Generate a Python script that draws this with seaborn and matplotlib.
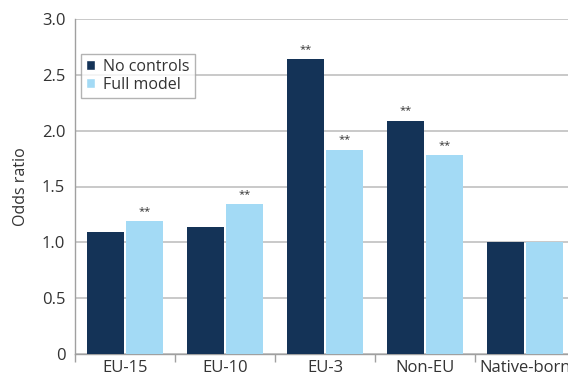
import matplotlib
matplotlib.use("Agg")
import matplotlib.pyplot as plt
import seaborn as sns
import pandas as pd
import numpy as np
from matplotlib.patches import Patch

categories = ["EU-15", "EU-10", "EU-3", "Non-EU", "Native-born"]
no_controls = [1.09, 1.14, 2.64, 2.09, 1.00]
full_model = [1.19, 1.34, 1.83, 1.78, 1.00]
sig_no_controls = ["", "", "**", "**", ""]
sig_full_model = ["**", "**", "**", "**", ""]
series = ["No controls", "Full model"]
yticks = [0, 0.5, 1.0, 1.5, 2.0, 2.5, 3.0]
ytick_labels = ["0", "0.5", "1.0", "1.5", "2.0", "2.5", "3.0"]

dark = "#143357"
light = "#a3daf5"

df = pd.DataFrame({
    "cat": categories * 2,
    "series": [series[0]] * 5 + [series[1]] * 5,
    "value": no_controls + full_model,
})

sns.set_theme(style="white")
plt.rcParams["font.family"] = ["Open Sans", "DejaVu Sans"]

fig = plt.figure(figsize=(5.68, 3.8), dpi=100)
ax = fig.add_axes([75 / 568, 26 / 380, 500 / 568, 335 / 380])

sns.barplot(data=df, x="cat", y="value", hue="series", order=categories,
            hue_order=series, palette=[dark, light], width=0.77, gap=0.05,
            saturation=1, linewidth=0, ax=ax, legend=False, zorder=3)

ax.set_ylim(0, 3.0)
ax.set_xlim(-0.5, len(categories) - 0.5)
ax.set_yticks(yticks)
ax.set_yticklabels(ytick_labels)
ax.yaxis.grid(True, color="#c0c0c0", linewidth=1.2, zorder=0)
ax.set_axisbelow(True)
for s in ["top", "right"]:
    ax.spines[s].set_visible(False)
for s in ["left", "bottom"]:
    ax.spines[s].set_color("#a0a0a0")
    ax.spines[s].set_linewidth(1.0)

ax.set_xticks(range(len(categories)))
ax.set_xticklabels(categories)
ax.set_xticks(np.arange(-0.5, len(categories) - 0.5, 1.0), minor=True)
ax.tick_params(axis="x", which="major", length=0, pad=4, labelsize=12, labelcolor="#333333")
ax.tick_params(axis="x", which="minor", length=6, color="#a0a0a0", width=1, direction="out", bottom=True)
ax.tick_params(axis="y", length=0, pad=7, labelsize=12, labelcolor="#333333")
ax.set_xlabel("")
ax.set_ylabel("Odds ratio", fontsize=11.5, color="#333333", labelpad=9)

# significance markers
offs = [-0.77 / 4, 0.77 / 4]
for i, cat in enumerate(categories):
    for j, (vals, sig) in enumerate([(no_controls, sig_no_controls), (full_model, sig_full_model)]):
        if sig[i]:
            ax.text(i + offs[j], vals[i] + 0.04, sig[i], ha="center", va="bottom",
                    fontsize=8, color="#333333")

handles = [Patch(facecolor=dark, label=series[0]), Patch(facecolor=light, label=series[1])]
leg = ax.legend(handles=handles, loc="upper left", bbox_to_anchor=(0.012, 0.895),
                frameon=True, fancybox=False, fontsize=11.5, handlelength=0.6,
                handleheight=0.6, handletextpad=0.5, borderpad=0.3, labelspacing=0.12,
                borderaxespad=0)
leg.get_frame().set_edgecolor("#a0a0a0")
leg.get_frame().set_linewidth(1.0)
for t in leg.get_texts():
    t.set_color("#333333")

fig.savefig("out.png", dpi=100)
